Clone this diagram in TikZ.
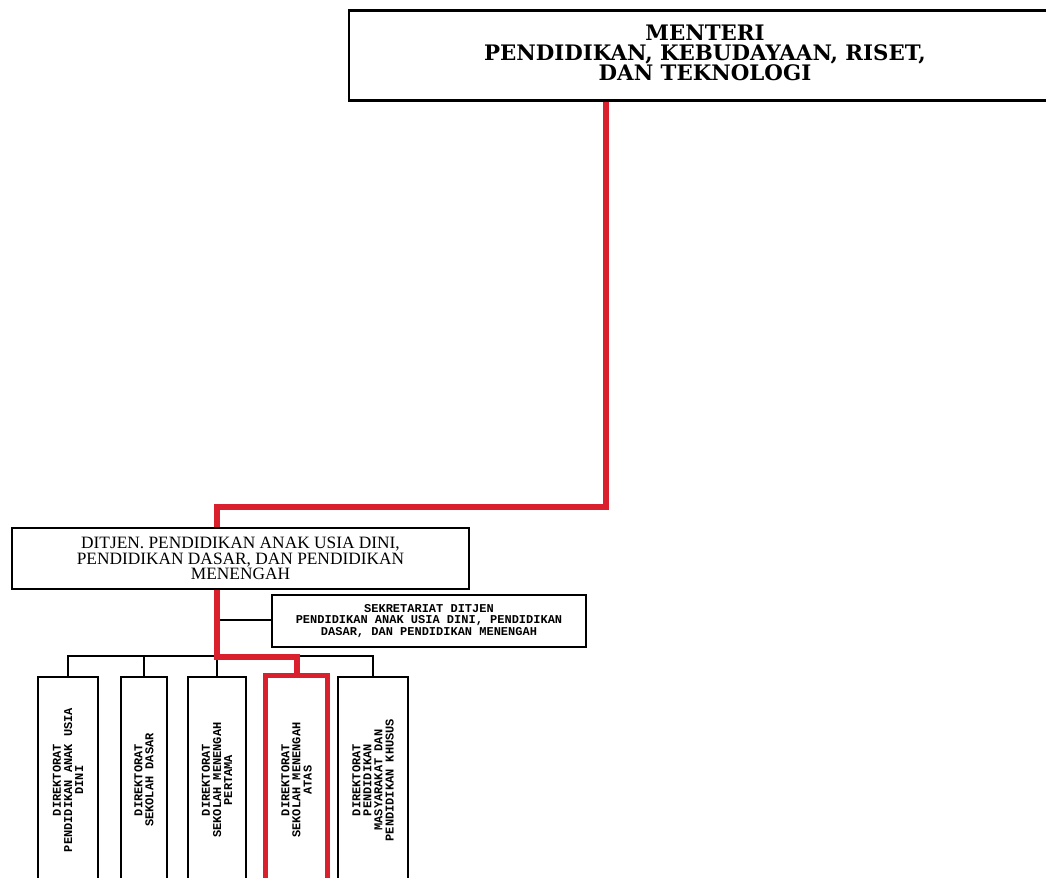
\documentclass[tikz,border=0pt]{standalone}
\usepackage{fontspec}
\newfontfamily\topfont{DejaVu Serif}
\newfontfamily\djfont{Liberation Serif}
\newfontfamily\pxfont{Liberation Mono}
\definecolor{orgred}{RGB}{218,32,44}
\tikzset{
  box/.style={draw=black, line width=1.4pt, inner sep=0pt, align=center, fill=white},
  redline/.style={draw=orgred, line width=4.5pt},
  link/.style={draw=black, line width=1.3pt},
  pxtext/.style={font=\pxfont\bfseries\fontsize{9}{8.3}\selectfont},
  vbox/.style={box, rotate=90, pxtext, minimum width=154.5pt},
}
\begin{document}
\begin{tikzpicture}[x=0.75pt,y=-0.75pt]
\useasboundingbox (0,0) rectangle (1046,878);
\clip (0,0) rectangle (1046,878);

% nodes
\node[box, line width=1.8pt, minimum width=534pt, minimum height=67.5pt] (top) at (705,55.5) {};
\node[align=center, inner sep=0pt, font=\topfont\bfseries\fontsize{16}{15}\selectfont] (toptext) at (705,52.5)
  {MENTERI\\PENDIDIKAN, KEBUDAYAAN, RISET,\\DAN TEKNOLOGI};
\node[box, minimum width=342.75pt, minimum height=45.75pt,
      font=\djfont\fontsize{13}{10.5}\selectfont] (ditjen) at (240.5,558.5)
  {DITJEN. PENDIDIKAN ANAK USIA DINI,\\PENDIDIKAN DASAR, DAN PENDIDIKAN\\MENENGAH};
\node[box, minimum width=235.5pt, minimum height=39pt, pxtext] (sek) at (429,621)
  {SEKRETARIAT DITJEN\\PENDIDIKAN ANAK USIA DINI, PENDIDIKAN\\DASAR, DAN PENDIDIKAN MENENGAH};

\node[vbox, minimum height=45pt] (d1) at (68,780)
  {DIREKTORAT\\PENDIDIKAN ANAK USIA\\DINI};
\node[vbox, minimum height=34.5pt] (d2) at (144,780)
  {DIREKTORAT\\SEKOLAH DASAR};
\node[vbox, minimum height=43pt] (d3) at (217,780)
  {DIREKTORAT\\SEKOLAH MENENGAH\\PERTAMA};
\node[vbox, draw=orgred, line width=3.75pt, minimum width=156.75pt, minimum height=46.5pt] (d4) at (296.5,780)
  {DIREKTORAT\\SEKOLAH MENENGAH\\ATAS};
\node[vbox, minimum height=52.5pt] (d5) at (373,780)
  {DIREKTORAT\\PENDIDIKAN\\MASYARAKAT DAN\\PENDIDIKAN KHUSUS};

% black connectors
\coordinate (s0) at (217,620);
\coordinate (bus) at (68,656);
\draw[link] (s0) -- (s0 -| sek.west);
\draw[link] (d1.east) -- (d1.east |- bus) -- (d5.east |- bus) -- (d5.east);
\draw[link] (d2.east) -- (d2.east |- bus);
\draw[link] (d3.east) -- (d3.east |- bus);

% red connectors
\coordinate (r1) at (606,507);
\coordinate (r2) at (217,507);
\coordinate (r3) at (217,657);
\draw[redline] (top.south -| r1) -- (r1) -- (r2) -- (ditjen.north -| r2);
\draw[redline] (ditjen.south -| r3) -- (r3) -- (r3 -| d4.east) -- (d4.east);
\end{tikzpicture}
\end{document}
